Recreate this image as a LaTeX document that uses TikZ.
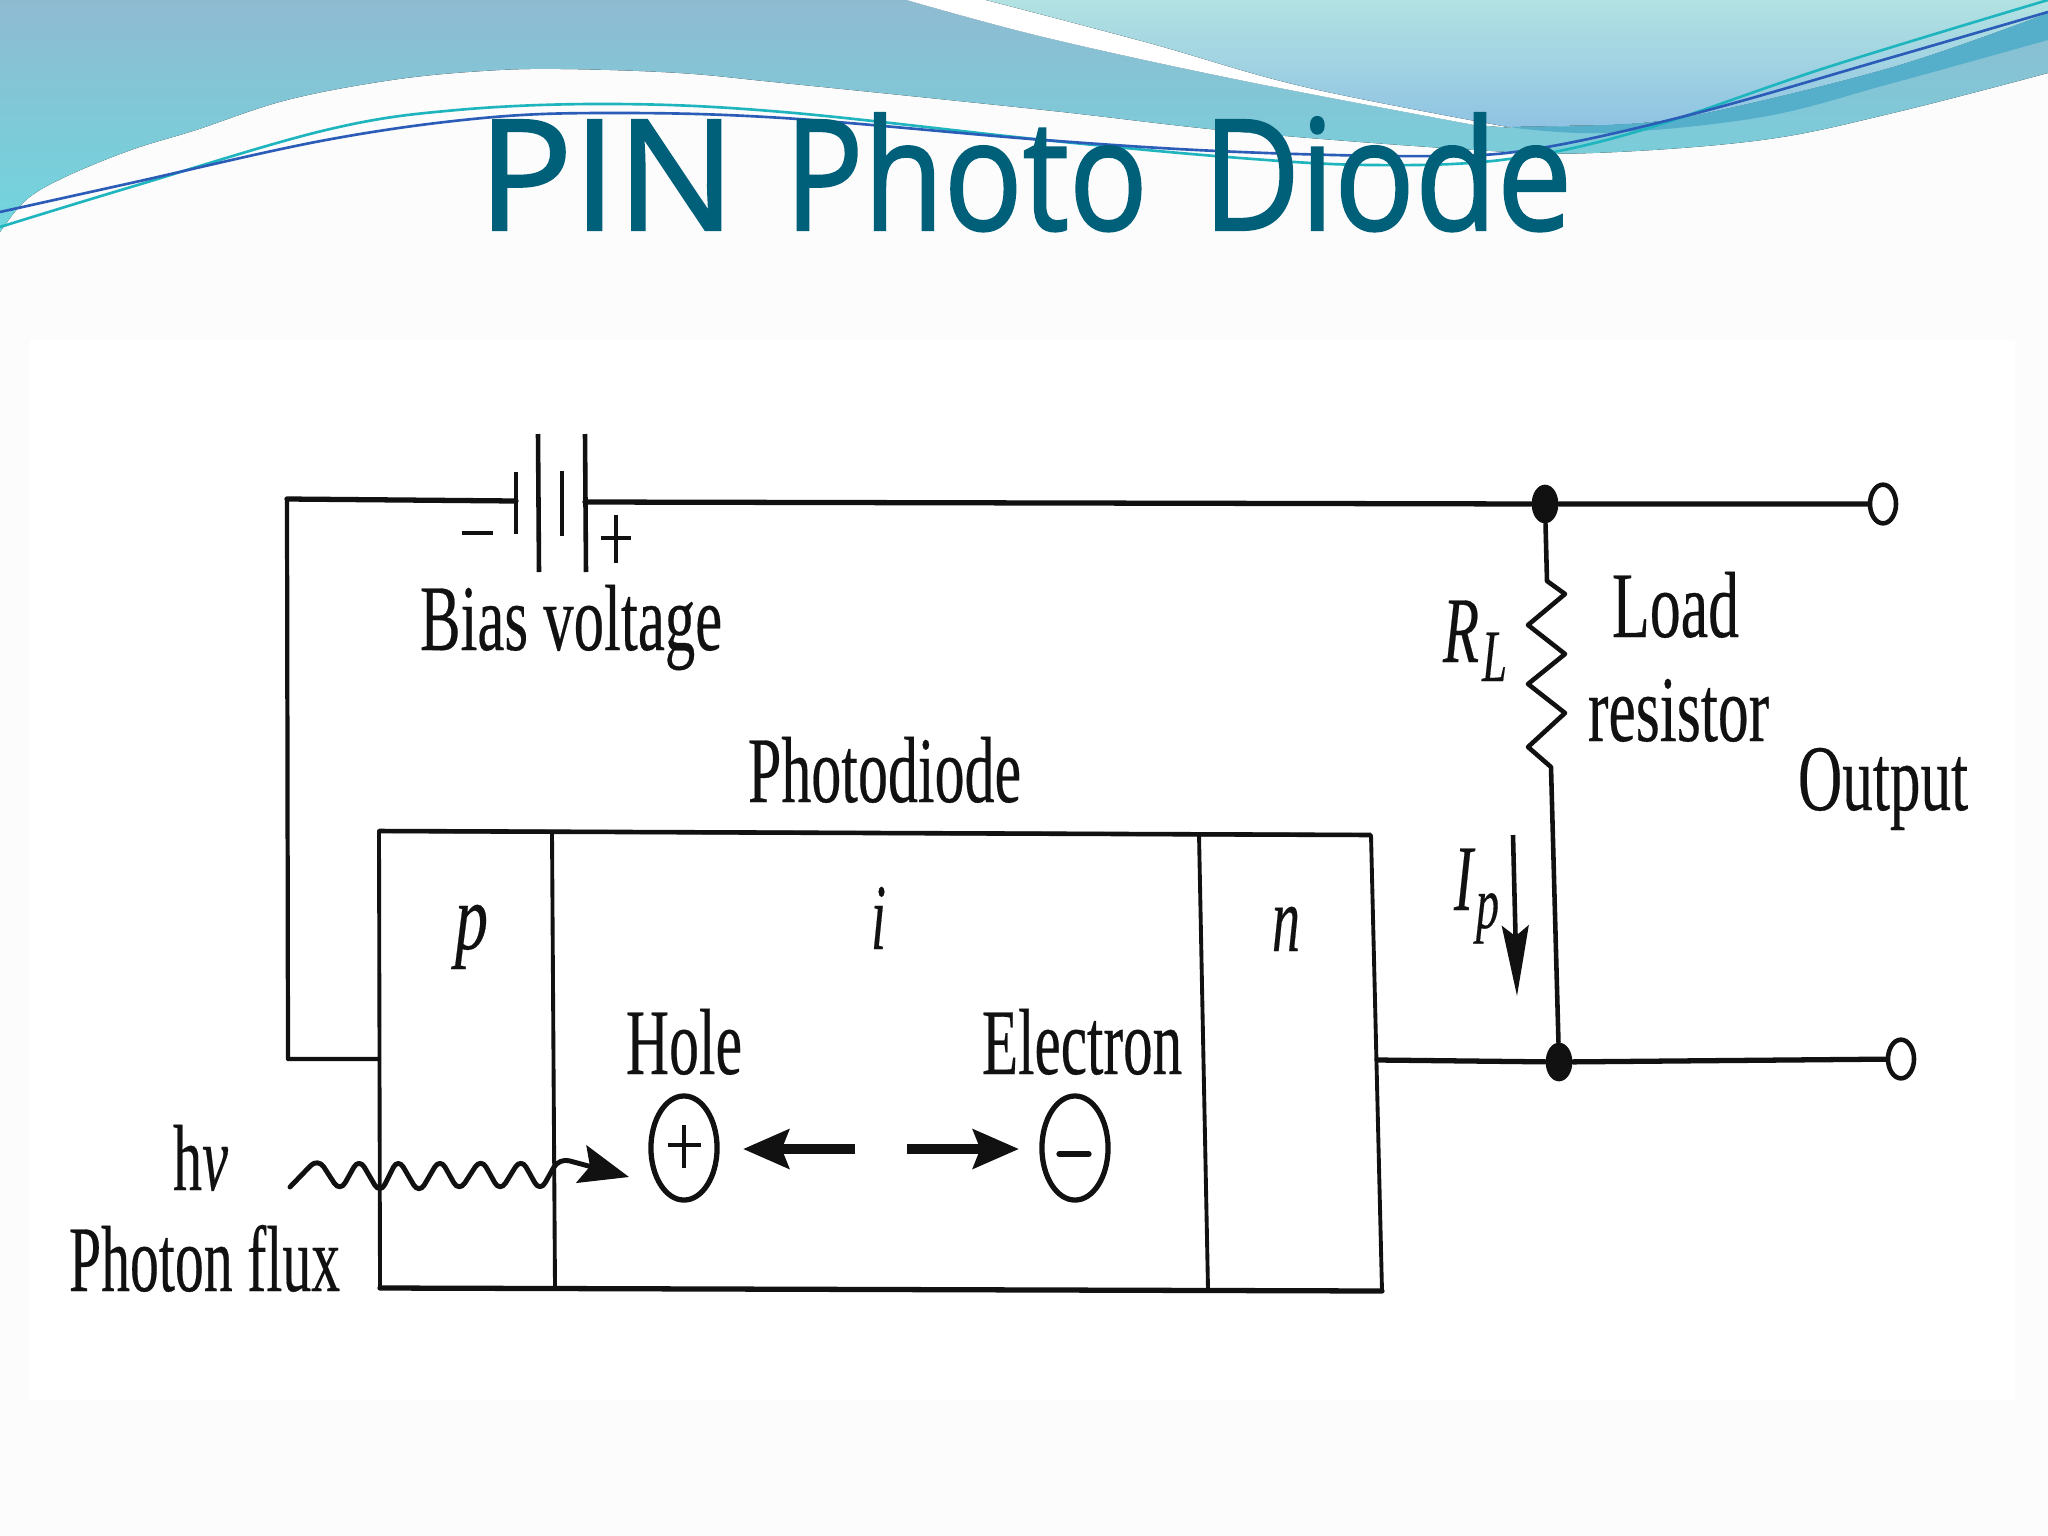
\documentclass[tikz,border=0pt]{standalone}
\usepackage{graphicx}
\usepackage{fontspec}
\setmainfont{Liberation Serif}[FakeBold=0.35]
\newfontfamily\titlefont{Open Sans}[FakeBold=1.4]
\usetikzlibrary{arrows.meta,shapes.geometric}
\definecolor{ink}{HTML}{111111}
\definecolor{pagebg}{HTML}{FCFCFC}
\definecolor{bandtop}{HTML}{8FBBD1}
\definecolor{bandbot}{HTML}{70D6DE}
\definecolor{lighttop}{HTML}{B2E2E2}
\definecolor{lightbot}{HTML}{8FC3E2}
\definecolor{stripe}{HTML}{55AFCB}
\definecolor{tealline}{HTML}{1FB5BE}
\definecolor{blueline}{HTML}{2A5CB8}
\definecolor{titlecol}{HTML}{00607A}
\newsavebox{\fitbox}
% #1 target width in px, #2 text: stretch horizontally to the target width
\newcommand{\fitw}[2]{\sbox{\fitbox}{#2}\scalebox{\fpeval{#1*0.28453/\the\wd\fitbox}}[1]{\usebox{\fitbox}}}
\newcommand{\bodyfont}{\fontsize{26.7}{30}\selectfont}
\tikzset{
  x=0.01cm,y=-0.01cm,
  lab/.style={anchor=base west,inner sep=0pt,outer sep=0pt,text=ink,font=\bodyfont},
  wire/.style={draw=ink,line width=1.5pt,line join=round,line cap=round},
  box line/.style={draw=ink,line width=1.1pt,line join=round},
  thin wire/.style={draw=ink,line width=0.9pt,line join=round},
  plate/.style={draw=ink,line width=1.3pt},
  terminal/.style={ellipse,draw=ink,line width=1.3pt,fill=white,inner sep=0pt,minimum width=7.4pt,minimum height=11pt},
  junction/.style={ellipse,fill=ink,inner sep=0pt,minimum width=7.6pt,minimum height=11pt},
  carrier/.style={ellipse,draw=ink,line width=1.5pt,inner sep=0pt,minimum width=18.8pt,minimum height=29.6pt},
  flow/.style={draw=ink,line width=2.7pt,-{Stealth[length=13pt,width=11pt,inset=2pt]}},
}
\begin{document}
\begin{tikzpicture}
\useasboundingbox (0,0) rectangle (2048,1536);
\clip (0,0) rectangle (2048,1536);
\fill[pagebg] (0,0) rectangle (2048,1536);
\fill[white] (30,340) rectangle (2015,1400);
% header band
\fill[top color=bandtop,bottom color=bandbot]
  (0,0) -- (907,0)
  -- plot[smooth,tension=.6] coordinates {(907,0) (1044,37) (1240,80) (1475,125)}
  -- (1514,128) -- (2048,20) -- (2048,73)
  -- plot[smooth,tension=.6] coordinates {(2048,73) (1893,113) (1762,140) (1593,153) (1475,150) (1240,132) (1044,110) (783,83) (679,73) (561,69) (483,71) (392,80) (287,100) (196,130) (131,150) (65,177) (26,200) (0,232)}
  -- cycle;
\fill[white]
  plot[smooth,tension=.6] coordinates {(907,0) (1044,37) (1240,80) (1475,125)}
  -- plot[smooth,tension=.6] coordinates {(1508,127) (1305,87) (1149,43) (986,0)}
  -- cycle;
\fill[top color=lighttop,bottom color=lightbot]
  plot[smooth,tension=.6] coordinates {(986,0) (1149,43) (1305,87) (1508,127)}
  -- plot[smooth,tension=.6] coordinates {(1606,125) (1697,115) (1893,67) (2048,13)}
  -- (2048,0) -- cycle;
\fill[stripe]
  plot[smooth,tension=.6] coordinates {(1508,127) (1606,133) (1762,117) (1893,83) (2048,40)}
  -- plot[smooth,tension=.6] coordinates {(2048,13) (1893,67) (1697,115) (1606,125) (1508,127)}
  -- cycle;
\draw[tealline,line width=0.75pt] plot[smooth,tension=.6] coordinates {(0,227) (131,187) (326,130) (457,110) (614,104) (783,112) (1044,140) (1240,158) (1371,165) (1501,160) (1632,133) (1828,67) (2048,0)};
\draw[blueline,line width=0.75pt] plot[smooth,tension=.6] coordinates {(0,212) (131,183) (326,140) (483,118) (614,113) (783,118) (1044,140) (1240,152) (1436,156) (1541,148) (1697,113) (1893,57) (2048,12)};
% title
\node[anchor=base west,inner sep=0pt,text=titlecol,font=\titlefont\fontsize{43.8}{50}\selectfont] (title) at (477,230) {\fitw{258}{PIN}\hspace{13.9pt}\fitw{363}{Photo}\hspace{15.6pt}\fitw{369}{Diode}};

% photodiode box corners and dividers
\coordinate (tl) at (379,831);
\coordinate (tr) at (1371,835);
\coordinate (br) at (1382,1291);
\coordinate (bl) at (380,1288);
\coordinate (pit) at (552,832);
\coordinate (pib) at (555,1288);
\coordinate (int) at (1199,834);
\coordinate (inb) at (1208,1289);
\draw[box line] (br) -- (tr) -- (tl) -- (bl);
\draw[wire] (bl) -- (br);
\draw[box line,line width=1.3pt] (tl) -- (tr);
\draw[box line] (pit) -- (pib);
\draw[box line] (int) -- (inb);

% circuit points
\coordinate (lead) at (379,1059);
\coordinate (corbot) at (288,1059);
\coordinate (cortop) at (287,499);
\coordinate (batneg) at (516,501);
\coordinate (batpos) at (585,502);
\coordinate (boxout) at (1377,1060);
\node[junction] (j1) at (1545,504) {};
\node[junction] (j2) at (1559,1062) {};
\node[terminal] (t1) at (1883,504) {};
\node[terminal] (t2) at (1901,1059) {};
% battery plates
\coordinate (p1a) at (516,472); \coordinate (p1b) at (516,534);
\coordinate (p2a) at (538,434); \coordinate (p2b) at (539,572);
\coordinate (p3a) at (562,471); \coordinate (p3b) at (562,536);
\coordinate (p4a) at (585,434); \coordinate (p4b) at (586,572);
\draw[plate] (p1a) -- (p1b);
\draw[plate] (p2a) -- (p2b);
\draw[plate] (p3a) -- (p3b);
\draw[plate] (p4a) -- (p4b);
% wires
\draw[wire,line width=1.2pt] (lead) -- (corbot) -- (cortop);
\draw[wire] (cortop) -- (batneg);
\draw[wire] (batpos) -- (j1) -- (t1);
\draw[wire] (boxout) -- (j2) -- (t2);
\draw[wire,line width=1.3pt] (j1) -- (1547,581) -- (1565,594) -- (1528,625) -- (1565,654) -- (1528,684) -- (1565,713) -- (1528,747) -- (1551,767) -- (j2);

% battery signs
\coordinate (mn1) at (462,533); \coordinate (mn2) at (493,533);
\draw[plate] (mn1) -- (mn2);
\coordinate (ph1) at (601,538); \coordinate (ph2) at (631,538);
\coordinate (pv1) at (616,515); \coordinate (pv2) at (616,563);
\draw[plate,line width=1.1pt] (ph1) -- (ph2);
\draw[plate,line width=1.1pt] (pv1) -- (pv2);

% carriers
\node[carrier] (hole) at (684,1148) {};
\node[carrier] (elec) at (1075,1148) {};
\coordinate (hh1) at (668,1145); \coordinate (hh2) at (701,1145);
\coordinate (hv1) at (684,1125); \coordinate (hv2) at (684,1168);
\draw[thin wire] (hh1) -- (hh2);
\draw[thin wire] (hv1) -- (hv2);
\coordinate (em1) at (1059,1154); \coordinate (em2) at (1089,1154);
\draw[wire] (em1) -- (em2);
% carrier arrows
\coordinate (ha1) at (855,1149); \coordinate (ha2) at (743,1149);
\coordinate (ea1) at (907,1149); \coordinate (ea2) at (1019,1149);
\draw[flow] (ha1) -- (ha2);
\draw[flow] (ea1) -- (ea2);
% photon wave
\coordinate (ph0) at (290,1187);
\coordinate (phtip) at (629,1177);
\draw[wire,line width=1.4pt,rounded corners=3pt,-{Stealth[length=14pt,width=11pt,inset=2.5pt]}] (ph0) -- (318,1158) -- (340,1192) -- (359,1158) -- (380,1194) -- (398,1158) -- (419,1194) -- (440,1158) -- (459,1192) -- (481,1158) -- (500,1192) -- (521,1158) -- (540,1192) -- (559,1158) -- (phtip);
% current arrow
\coordinate (ip1) at (1513,835); \coordinate (ip2) at (1517,996);
\draw[draw=ink,line width=1.3pt,-{Stealth[length=20pt,width=7.6pt,inset=3pt]}] (ip1) -- (ip2);

% labels
\node[lab] (bias) at (420,650) {\fitw{302}{Bias voltage}};
\node[lab] (photodiode) at (748,802) {\fitw{273}{Photodiode}};
\node[lab] (lp) at (455,949) {\fitw{33}{\itshape p}};
\node[lab] (li) at (871,949) {\fitw{15}{\itshape i}};
\node[lab] (ln) at (1272,951) {\fitw{28}{\itshape n}};
\node[lab] (lhole) at (626,1074) {\fitw{116}{Hole}};
\node[lab] (lelec) at (982,1074) {\fitw{200}{Electron}};
\node[lab] (lhv) at (173,1190) {\fitw{55}{h\textit{v}}};
\node[lab] (lflux) at (69,1291) {\fitw{271}{Photon flux}};
\node[lab] (lload) at (1612,637) {\fitw{127}{Load}};
\node[lab] (lres) at (1588,741) {\fitw{181}{resistor}};
\node[lab] (lout) at (1798,810) {\fitw{170}{Output}};
\node[lab] (lr) at (1443,662) {\fitw{36}{\itshape R}};
\node[lab,font=\fontsize{21}{24}\selectfont] (lrs) at (1482,681) {\fitw{25}{\itshape L}};
\node[lab] (lI) at (1454,910) {\fitw{19}{\itshape I}};
\node[lab,font=\fontsize{21}{24}\selectfont] (lIs) at (1476,928) {\fitw{23}{\itshape p}};
\end{tikzpicture}
\end{document}
